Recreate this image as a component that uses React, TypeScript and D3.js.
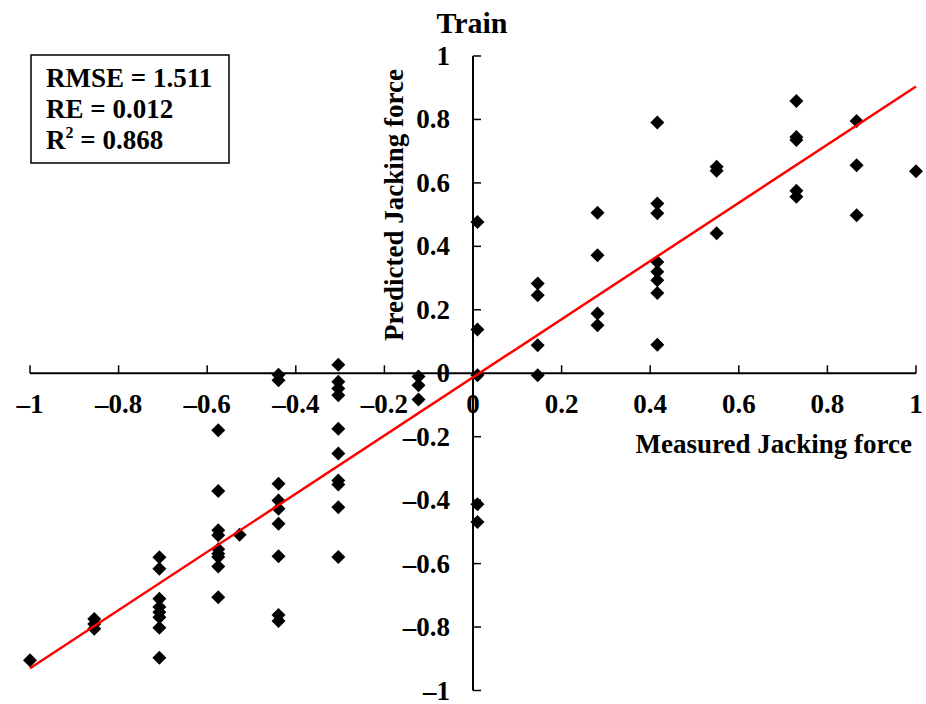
import { useEffect, useRef } from "react";
import * as d3 from "d3";

// measured value of each column of points, and the predicted values in it
const measuredLevels = [-1, -0.855, -0.708, -0.575, -0.527, -0.439, -0.304, -0.123, 0.01, 0.146, 0.281, 0.416, 0.55, 0.73, 0.866, 1];
const predictedByLevel: number[][] = [
  [-0.905],
  [-0.775, -0.79, -0.805],
  [-0.58, -0.616, -0.711, -0.737, -0.753, -0.769, -0.802, -0.897],
  [-0.18, -0.371, -0.495, -0.511, -0.555, -0.569, -0.579, -0.609, -0.706],
  [-0.509],
  [-0.005, -0.022, -0.348, -0.401, -0.427, -0.474, -0.577, -0.762, -0.781],
  [0.027, -0.027, -0.048, -0.069, -0.175, -0.253, -0.338, -0.351, -0.422, -0.579],
  [-0.01, -0.038, -0.083],
  [0.477, 0.138, -0.006, -0.413, -0.469],
  [0.283, 0.246, 0.088, -0.006],
  [0.506, 0.372, 0.188, 0.151],
  [0.79, 0.535, 0.504, 0.351, 0.32, 0.293, 0.253, 0.09],
  [0.651, 0.638, 0.441],
  [0.858, 0.745, 0.735, 0.575, 0.556],
  [0.795, 0.656, 0.498],
  [0.637]
];

const fitSlope = 0.917;
const fitIntercept = -0.013;
const tickValues = [-1, -0.8, -0.6, -0.4, -0.2, 0, 0.2, 0.4, 0.6, 0.8, 1];
const statLines = ["RMSE = 1.511", "RE = 0.012", "0.868"];

const FONT = "'Liberation Serif', 'Times New Roman', serif";

export default function App() {
  const svgRef = useRef<SVGSVGElement | null>(null);

  useEffect(() => {
    const svg = d3.select(svgRef.current);
    svg.selectAll("*").remove();

    const x = d3.scaleLinear().domain([-1, 1]).range([30, 916]);
    const y = d3.scaleLinear().domain([-1, 1]).range([690.5, 56]);
    const fmt = (v: number) => (v === 0 ? "0" : d3.format("")(v).replace("-", "\u2013").replace("\u2212", "\u2013"));

    const g = svg.append("g").attr("font-family", FONT).attr("font-weight", "bold");

    // axes through the origin
    g.append("line")
      .attr("x1", x(-1)).attr("x2", x(1))
      .attr("y1", y(0)).attr("y2", y(0))
      .attr("stroke", "#000").attr("stroke-width", 2);
    g.append("line")
      .attr("x1", x(0)).attr("x2", x(0))
      .attr("y1", y(-1)).attr("y2", y(1))
      .attr("stroke", "#000").attr("stroke-width", 2);

    g.selectAll("line.xt")
      .data(tickValues)
      .join("line")
      .attr("class", "xt")
      .attr("x1", (d) => x(d)).attr("x2", (d) => x(d))
      .attr("y1", y(0)).attr("y2", y(0) - 8)
      .attr("stroke", "#000").attr("stroke-width", 1.5);
    g.selectAll("line.yt")
      .data(tickValues)
      .join("line")
      .attr("class", "yt")
      .attr("x1", x(0)).attr("x2", x(0) + 8)
      .attr("y1", (d) => y(d)).attr("y2", (d) => y(d))
      .attr("stroke", "#000").attr("stroke-width", 1.5);

    g.selectAll("text.xl")
      .data(tickValues)
      .join("text")
      .attr("class", "xl")
      .attr("x", (d) => x(d))
      .attr("y", y(0) + 40)
      .attr("text-anchor", "middle")
      .attr("font-size", 27)
      .text(fmt);
    g.selectAll("text.yl")
      .data(tickValues)
      .join("text")
      .attr("class", "yl")
      .attr("x", x(0) - 23)
      .attr("y", (d) => y(d) + 9)
      .attr("text-anchor", "end")
      .attr("font-size", 27)
      .text(fmt);

    // points
    const points = measuredLevels.flatMap((m, i) => predictedByLevel[i].map((p) => [m, p] as [number, number]));
    const r = 7;
    g.selectAll("path.pt")
      .data(points)
      .join("path")
      .attr("class", "pt")
      .attr("d", ([mx, py]) => {
        const cx = x(mx), cy = y(py);
        return `M${cx},${cy - r}L${cx + r},${cy}L${cx},${cy + r}L${cx - r},${cy}Z`;
      })
      .attr("fill", "#000");

    // fitted line
    const line = d3.line<number>().x((d) => x(d)).y((d) => y(fitSlope * d + fitIntercept));
    g.append("path")
      .attr("d", line([-1, 1]))
      .attr("fill", "none")
      .attr("stroke", "#ff0000")
      .attr("stroke-width", 2.5);

    // titles
    g.append("text").attr("x", 472).attr("y", 33).attr("text-anchor", "middle").attr("font-size", 30).text("Train");
    g.append("text").attr("x", 912).attr("y", 453).attr("text-anchor", "end").attr("font-size", 27).text("Measured Jacking force");
    g.append("text")
      .attr("transform", "translate(403,205) rotate(-90)")
      .attr("text-anchor", "middle")
      .attr("font-size", 27)
      .text("Predicted Jacking force");

    // statistics box
    g.append("rect")
      .attr("x", 31).attr("y", 55).attr("width", 198).attr("height", 108)
      .attr("fill", "#fff").attr("stroke", "#000").attr("stroke-width", 1.5);
    g.append("text").attr("x", 46).attr("y", 87).attr("font-size", 27).text(statLines[0]);
    g.append("text").attr("x", 46).attr("y", 118).attr("font-size", 27).text(statLines[1]);
    const r2 = g.append("text").attr("x", 46).attr("y", 149).attr("font-size", 27);
    r2.append("tspan").text("R");
    r2.append("tspan").attr("font-size", 16).attr("dy", -11).text("2");
    r2.append("tspan").attr("dy", 11).text(" = " + statLines[2]);
  }, []);

  return (
    <svg
      ref={svgRef}
      width={926}
      height={704}
      viewBox="0 0 926 704"
      style={{ position: "absolute", left: 0, top: 0, background: "#fff" }}
    />
  );
}
